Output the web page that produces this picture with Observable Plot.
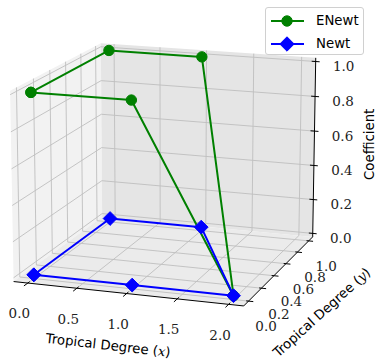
<!DOCTYPE html>
<html><head><meta charset="utf-8">
<script src="https://cdn.jsdelivr.net/npm/d3@7"></script>
<script src="https://cdn.jsdelivr.net/npm/@observablehq/plot@0.6"></script>
<style>
html,body{margin:0;padding:0;background:#fff;}
#wrap{position:relative;width:378px;height:359px;overflow:hidden;}
#legend{position:absolute;left:265px;top:7px;width:99px;height:48px;box-sizing:border-box;border:1px solid #d0d0d0;border-radius:3px;background:rgba(255,255,255,0.85);font-family:"DejaVu Sans";font-size:13.3px;color:#000;}
.row{position:absolute;left:0;height:20px;width:100%;}
.row svg{position:absolute;left:4px;top:0;}
.row span{position:absolute;left:50px;top:1px;line-height:18px;}
</style></head><body><div id="wrap"></div>
<script>
// ---- data ----
const seriesNames = ["ENewt", "Newt"];
const seriesColors = ["green", "blue"];
const degX = [0, 1, 2, 1, 0, 0];          // Tropical Degree (x), closed loop
const degY = [0, 0, 0, 1, 1, 0];          // Tropical Degree (y)
const coefENewt = [1.0, 1.0, 0.0, 1.0, 1.0, 1.0];
const coefNewt  = [0.0, 0.0, 0.0, 0.0, 0.0, 0.0];
const xTicks = [0, 0.5, 1, 1.5, 2];
const yTicks = [0, 0.2, 0.4, 0.6, 0.8, 1.0];
const zTicks = [0, 0.2, 0.4, 0.6, 0.8, 1.0];

// ---- 3D axis limits (data range + margin, with pane padding) ----
function lims(vals, margin) {
  const [lo, hi] = d3.extent(vals);
  const r = hi - lo;
  const a = lo - margin * r, b = hi + margin * r;
  const p = (b - a) / 48;
  return [a - p, b + p];
}
const [xlo, xhi] = lims(degX, 0.05);
const [ylo, yhi] = lims(degY, 0.05);
const [zlo, zhi] = lims(coefENewt.concat(coefNewt), 0);
const xr = xhi - xlo, yr = yhi - ylo, zr = zhi - zlo;

// ---- camera ----
const cam = {azim: -71, elev: 14.5, dist: 2200, box: [235, 245, 190.8], cx: 167.7, cy: 166.6};
const A = cam.azim * Math.PI / 180, E = cam.elev * Math.PI / 180;
const rv = [-Math.sin(A), Math.cos(A), 0];
const uv = [-Math.sin(E) * Math.cos(A), -Math.sin(E) * Math.sin(A), Math.cos(E)];
const vv = [Math.cos(E) * Math.cos(A), Math.cos(E) * Math.sin(A), Math.sin(E)];
function project(x, y, z) {
  const b = [((x - xlo) / xr - 0.5) * cam.box[0], ((y - ylo) / yr - 0.5) * cam.box[1], ((z - zlo) / zr - 0.5) * cam.box[2]];
  const R = b[0]*rv[0] + b[1]*rv[1] + b[2]*rv[2];
  const U = b[0]*uv[0] + b[1]*uv[1] + b[2]*uv[2];
  const D = b[0]*vv[0] + b[1]*vv[1] + b[2]*vv[2];
  const f = cam.dist / (cam.dist - D);
  return [cam.cx + f * R, cam.cy - f * U];
}
const P = (p) => { const [px, py] = project(...p); return {px, py}; };
const seg = (a, b) => { const [x1, y1] = project(...a); const [x2, y2] = project(...b); return {x1, y1, x2, y2}; };

// panes
const leftPane  = [[xlo,ylo,zlo],[xlo,yhi,zlo],[xlo,yhi,zhi],[xlo,ylo,zhi]].map(P);
const backPane  = [[xlo,yhi,zlo],[xhi,yhi,zlo],[xhi,yhi,zhi],[xlo,yhi,zhi]].map(P);
const floorPane = [[xlo,ylo,zlo],[xhi,ylo,zlo],[xhi,yhi,zlo],[xlo,yhi,zlo]].map(P);

// grid
const grid = [];
xTicks.forEach(t => { grid.push(seg([t,ylo,zlo],[t,yhi,zlo])); grid.push(seg([t,yhi,zlo],[t,yhi,zhi])); });
yTicks.forEach(t => { grid.push(seg([xlo,t,zlo],[xhi,t,zlo])); grid.push(seg([xlo,t,zlo],[xlo,t,zhi])); });
zTicks.forEach(t => { grid.push(seg([xlo,ylo,t],[xlo,yhi,t])); grid.push(seg([xlo,yhi,t],[xhi,yhi,t])); });

// axis lines + ticks
const axes = [seg([xlo,ylo,zlo],[xhi,ylo,zlo]), seg([xhi,ylo,zlo],[xhi,yhi,zlo]), seg([xhi,yhi,zlo],[xhi,yhi,zhi])];
const ticks = [];
xTicks.forEach(t => ticks.push(seg([t, ylo - 0.04*yr, zlo],[t, ylo + 0.02*yr, zlo])));
yTicks.forEach(t => ticks.push(seg([xhi - 0.01*xr, t, zlo],[xhi + 0.02*xr, t, zlo])));
zTicks.forEach(t => ticks.push(seg([xhi - 0.018*xr, yhi, t],[xhi + 0.018*xr, yhi, t])));

const fmt = d3.format(".1f");
const xLab = xTicks.map(t => ({...P([t, ylo, zlo]), label: fmt(t)}));
const yLab = yTicks.map(t => ({...P([xhi, t, zlo]), label: fmt(t)}));
const zLab = zTicks.map(t => ({...P([xhi, yhi, t]), label: fmt(t)}));

const titles = [
  {...P([(xlo+xhi)/2, ylo, zlo]), label: "Tropical Degree (x)", dx: -18.5, dy: 52, rot: 6.5},
  {...P([xhi, (ylo+yhi)/2, zlo]), label: "Tropical Degree (y)", dx: 42, dy: 43, rot: -42},
  {...P([xhi, yhi, (zlo+zhi)/2]), label: "Coefficient", dx: 55.5, dy: -4, rot: -90}
];

const series = [coefENewt, coefNewt].map((zs, s) => degX.map((x, i) => ({series: seriesNames[s], ...P([x, degY[i], zs[i]])})));

const serif = "DejaVu Serif";
const sans = "DejaVu Sans";
const tickSize = 13.5;

const chart = Plot.plot({
  width: 378, height: 359, margin: 0,
  x: {domain: [0, 378], range: [0, 378], axis: null},
  y: {domain: [0, 359], range: [0, 359], axis: null},
  style: {background: "white"},
  marks: [
    Plot.line(leftPane, {x: "px", y: "py", fill: "#f2f2f2", stroke: "none"}),
    Plot.line(backPane, {x: "px", y: "py", fill: "#e5e5e5", stroke: "none"}),
    Plot.line(floorPane, {x: "px", y: "py", fill: "#ebebeb", stroke: "none"}),
    Plot.link(grid, {x1: "x1", y1: "y1", x2: "x2", y2: "y2", stroke: "#bebebe", strokeWidth: 0.9}),
    Plot.link(axes, {x1: "x1", y1: "y1", x2: "x2", y2: "y2", stroke: "black", strokeWidth: 1}),
    Plot.link(ticks, {x1: "x1", y1: "y1", x2: "x2", y2: "y2", stroke: "black", strokeWidth: 1}),
    Plot.text(xLab, {x: "px", y: "py", text: "label", dx: -8.5, dy: 31, fontFamily: serif, fontSize: tickSize, fill: "#222"}),
    Plot.text(yLab, {x: "px", y: "py", text: "label", dx: 17.5, dy: 26, fontFamily: serif, fontSize: tickSize, fill: "#222"}),
    Plot.text(zLab, {x: "px", y: "py", text: "label", dx: 28, dy: 5.5, fontFamily: serif, fontSize: tickSize, fill: "#222"}),
    ...titles.map(t => Plot.text([t], {x: "px", y: "py", text: "label", dx: t.dx, dy: t.dy, rotate: t.rot, fontFamily: sans, fontSize: 13.3, fill: "black"})),
    Plot.line(series[0], {x: "px", y: "py", stroke: seriesColors[0], strokeWidth: 2}),
    Plot.dot(series[0], {x: "px", y: "py", r: 5.2, fill: seriesColors[0], stroke: seriesColors[0], strokeWidth: 1}),
    Plot.line(series[1], {x: "px", y: "py", stroke: seriesColors[1], strokeWidth: 2}),
    Plot.dot(series[1], {x: "px", y: "py", r: 6.2, symbol: "diamond2", fill: seriesColors[1], stroke: seriesColors[1], strokeWidth: 1})
  ]
});

// italic math variable in axis titles
d3.select(chart).selectAll("text").each(function() {
  const t = this.textContent.trim();
  const m = /^(.*\()([xy])(\))$/.exec(t);
  if (m) {
    this.textContent = "";
    const s = d3.select(this);
    s.append("tspan").text(m[1]);
    s.append("tspan").attr("font-style", "italic").attr("font-family", "DejaVu Serif").text(m[2]);
    s.append("tspan").text(m[3]);
  }
});

const wrap = document.getElementById("wrap");
wrap.appendChild(chart);

// legend
const leg = document.createElement("div");
leg.id = "legend";
seriesNames.forEach((name, i) => {
  const row = document.createElement("div");
  row.className = "row";
  row.style.top = (3 + i * 23) + "px";
  const sym = i === 0
    ? `<circle cx="17" cy="10" r="5.2" fill="${seriesColors[i]}" stroke="${seriesColors[i]}"/>`
    : `<path d="M17,2.8L24.2,10L17,17.2L9.8,10Z" fill="${seriesColors[i]}" stroke="${seriesColors[i]}"/>`;
  row.innerHTML = `<svg width="36" height="20"><line x1="1" y1="10" x2="34" y2="10" stroke="${seriesColors[i]}" stroke-width="2"/>${sym}</svg><span>${name}</span>`;
  leg.appendChild(row);
});
wrap.appendChild(leg);
</script></body></html>
